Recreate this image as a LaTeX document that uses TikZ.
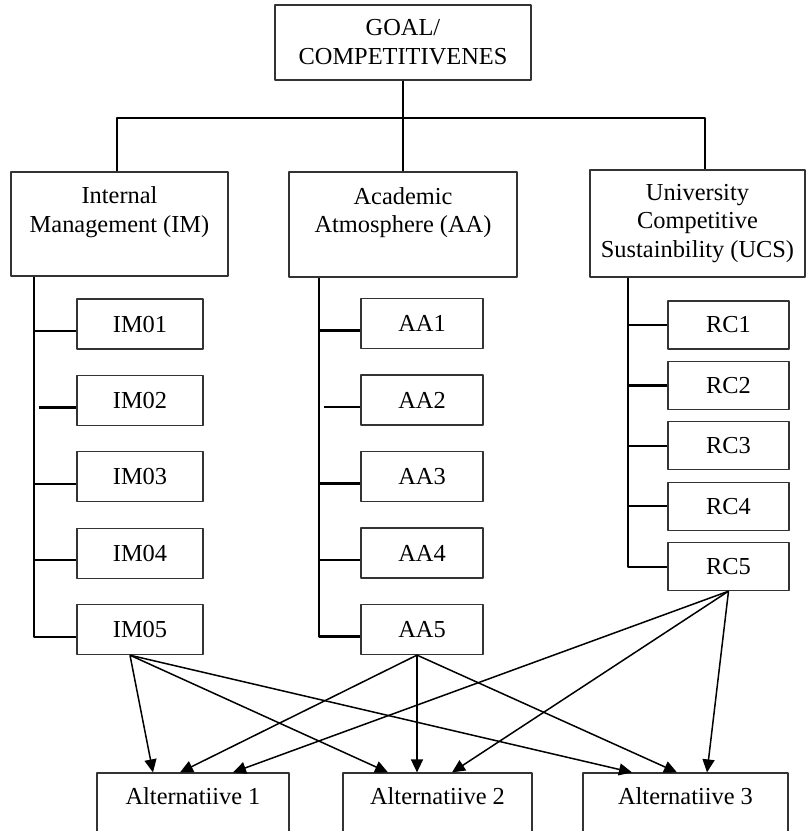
\documentclass[tikz,border=0pt]{standalone}
\usepackage{fontspec}
\setmainfont{Liberation Serif}
\usetikzlibrary{arrows.meta}
\begin{document}
\begin{tikzpicture}[x=0.5pt,y=-0.5pt,line join=round,>={Triangle[length=6.5pt,width=6pt]},
	box/.style={draw=black!80,line width=0.6pt,align=center,inner sep=0pt,font=\fontsize{12.2}{14.4}\selectfont},
	catbox/.style={box,minimum height=52pt},
	subbox/.style={box,minimum height=25pt},
	tree/.style={line width=1.1pt},
	link/.style={->,line width=0.75pt}]
	\useasboundingbox (0,0) rectangle (807,831);
	%Goal
	\node[box,minimum width=128pt,minimum height=37.5pt] (goal) at (403,42.5) {GOAL/\\COMPETITIVENES};
	%Criteria
	\node[catbox,minimum width=108.5pt] (IM) at (119.5,224) {Internal\\Management (IM)\\\mbox{}};
	\node[catbox,minimum width=114pt,minimum height=52.5pt] (AA) at (403,224.5) {Academic\\Atmosphere (AA)\\\mbox{}};
	\node[catbox,minimum width=107.5pt,minimum height=53.5pt] (UCS) at (697.5,223.5) {University\\Competitive\\Sustainbility (UCS)};
	\coordinate (bus) at (404,118);
	\draw[tree] (goal) -- (AA);
	\draw[tree] ([xshift=-1.25pt]IM.north) |- (bus) -| ([xshift=3.75pt]UCS.north);
	%Sub-criteria
	\foreach \i in {1,...,5} {
		\node[subbox,minimum width=63pt] (IM0\i) at (140,{324+76.4*(\i-1)}) {IM0\i};
		\coordinate (IM0\i c) at ([yshift=-3.5pt]IM0\i.west);
		\node[subbox,minimum width=61pt] (AA\i) at (422,{323.5+76.5*(\i-1)}) {AA\i};
		\coordinate (AA\i c) at ([yshift=-3.5pt]AA\i.west);
		\node[subbox,minimum width=60.5pt,minimum height=24pt] (RC\i) at (728.5,{325+60.4*(\i-1)}) {RC\i};
	}
	\coordinate (IMstem) at (34,0);
	\coordinate (AAstem) at (319,0);
	\coordinate (RCstem) at (628,0);
	\draw[tree] (IMstem |- IM.south) |- (IM05c);
	\draw[tree] (AAstem |- AA.south) |- (AA5c);
	\draw[tree] (RCstem |- UCS.south) |- (RC5.west);
	\foreach \i/\g in {1/0,2/2.5,3/0,4/0} {
		\draw[tree] ([xshift=\g pt]IMstem |- IM0\i c) -- (IM0\i c);
		\draw[tree] ([xshift=\g pt]AAstem |- AA\i c) -- (AA\i c);
		\draw[tree] (RCstem |- RC\i.west) -- (RC\i.west);
	}
	%Alternatives
	\node[catbox,minimum width=96pt] (Alt1) at (193,825) {Alternatiive 1\\\mbox{}\\\mbox{}};
	\node[catbox,minimum width=94.5pt] (Alt2) at (437.5,825) {Alternatiive 2\\\mbox{}\\\mbox{}};
	\node[catbox,minimum width=102.5pt] (Alt3) at (685.5,825) {Alternatiive 3\\\mbox{}\\\mbox{}};
	\coordinate (IMout) at ([xshift=-5pt]IM05.south);
	\coordinate (AAout) at ([xshift=-2.5pt]AA5.south);
	\coordinate (RCout) at (RC5.south);
	\foreach \s/\t/\d in {IMout/Alt1/-20,IMout/Alt2/-24.75,IMout/Alt3/-26.75,
		AAout/Alt1/-6.5,AAout/Alt2/-10.25,AAout/Alt3/-4.25,
		RCout/Alt1/20,RCout/Alt2/7.25,RCout/Alt3/10.75}
		\draw[link] (\s) -- ([xshift=\d pt]\t.north);
\end{tikzpicture}
\end{document}
